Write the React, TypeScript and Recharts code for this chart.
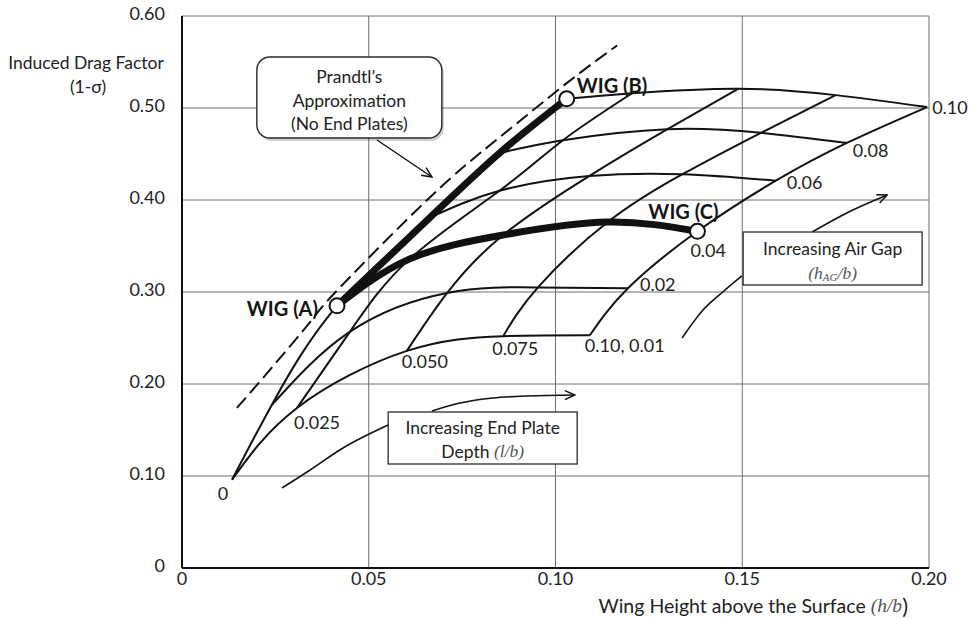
import React from 'react';
import { LineChart, Line, XAxis, YAxis, CartesianGrid, ReferenceDot } from 'recharts';

// End plate depth (l/b) and air gap (hAG/b) of the carpet nodes
const plateDepths = [0, 0.025, 0.05, 0.075, 0.1];
const airGaps = [0.01, 0.02, 0.04, 0.06, 0.08, 0.1];

// Wing height h/b at each node, one row per air gap, columns follow plateDepths
const heightGap01 = [0.0134, 0.0308, 0.0602, 0.086, 0.1092];
const heightGap02 = [0.024, 0.045, 0.071, 0.0953, 0.1194];
const heightGap04 = [0.0415, 0.061, 0.086, 0.114, 0.138];
const heightGap06 = [0.0664, 0.085, 0.109, 0.134, 0.159];
const heightGap08 = [0.085, 0.102, 0.13, 0.155, 0.178];
const heightGap10 = [0.103, 0.1205, 0.149, 0.175, 0.1995];

// Induced drag factor (1-sigma) at the same nodes
const factorGap01 = [0.096, 0.174, 0.236, 0.252, 0.253];
const factorGap02 = [0.177, 0.257, 0.299, 0.305, 0.304];
const factorGap04 = [0.285, 0.336, 0.362, 0.376, 0.366];
const factorGap06 = [0.381, 0.41, 0.426, 0.428, 0.421];
const factorGap08 = [0.451, 0.465, 0.477, 0.473, 0.462];
const factorGap10 = [0.51, 0.516, 0.521, 0.514, 0.501];

// Prandtl's approximation (no end plates)
const prandtlHeight = [0.0147, 0.0241, 0.0348, 0.0423, 0.0664, 0.085, 0.103, 0.1165];
const prandtlFactor = [0.174, 0.218, 0.27, 0.305, 0.403, 0.468, 0.527, 0.568];

// leader lines and arrows of the notes
const prandtlPointerH = [0.0522, 0.0669];
const prandtlPointerS = [0.4652, 0.425];
const depthArrowH = [0.0669, 0.0744, 0.0833, 0.0924, 0.1052];
const depthArrowS = [0.1707, 0.1793, 0.1848, 0.187, 0.188];
const depthLeaderH = [0.0268, 0.0343, 0.0431, 0.0552];
const depthLeaderS = [0.087, 0.1065, 0.1304, 0.1554];
const gapArrowH = [0.1687, 0.178, 0.1888];
const gapArrowS = [0.3652, 0.3859, 0.4054];
const gapLeaderH = [0.1339, 0.1395, 0.1448, 0.1499];
const gapLeaderS = [0.25, 0.2804, 0.3, 0.3174];

const xTicks = [0, 0.05, 0.1, 0.15, 0.2];
const yTicks = [0, 0.1, 0.2, 0.3, 0.4, 0.5, 0.6];

type Pt = { x: number; y: number };
const toPoints = (h: number[], s: number[]): Pt[] => h.map((x, i) => ({ x, y: s[i] }));

const heightRows = [heightGap01, heightGap02, heightGap04, heightGap06, heightGap08, heightGap10];
const factorRows = [factorGap01, factorGap02, factorGap04, factorGap06, factorGap08, factorGap10];
const node = (g: number, d: number): Pt => ({ x: heightRows[g][d], y: factorRows[g][d] });

const gapCurves = airGaps.map((_, g) => plateDepths.map((__, d) => node(g, d)));
const depthCurves = plateDepths.map((_, d) => airGaps.map((__, g) => node(g, d)));

const FONT = 'Lato, "Open Sans", sans-serif';
const SERIF = '"Liberation Serif", "DejaVu Serif", serif';
const INK = '#111';
const TXT = '#222';
const NUM = 18;
const WORD = 17.5;

// text next to carpet nodes (gap index, depth index)
const nodeLabels = [
  { text: '0', g: 0, d: 0, dx: -9, dy: 13, anchor: 'middle' },
  { text: '0.025', g: 0, d: 1, dx: -3, dy: 14, anchor: 'start' },
  { text: '0.050', g: 0, d: 2, dx: -5, dy: 10, anchor: 'start' },
  { text: '0.075', g: 0, d: 3, dx: -11, dy: 12, anchor: 'start' },
  { text: '0.10, 0.01', g: 0, d: 4, dx: -5, dy: 10, anchor: 'start' },
  { text: '0.02', g: 1, d: 4, dx: 12, dy: -4, anchor: 'start' },
  { text: '0.04', g: 2, d: 4, dx: -7, dy: 19, anchor: 'start' },
  { text: '0.06', g: 3, d: 4, dx: 11, dy: 1, anchor: 'start' },
  { text: '0.08', g: 4, d: 4, dx: 6, dy: 7, anchor: 'start' },
  { text: '0.10', g: 5, d: 4, dx: 5, dy: 0, anchor: 'start' },
];

const wigPoints = [
  { text: 'WIG (A)', g: 2, d: 0, dx: -19, dy: 2, anchor: 'end' },
  { text: 'WIG (B)', g: 5, d: 0, dx: 10, dy: -14, anchor: 'start' },
  { text: 'WIG (C)', g: 2, d: 4, dx: -14, dy: -20, anchor: 'middle' },
];

function YTick({ x, y, payload }: any) {
  const v = payload.value as number;
  return (
    <text x={x} y={y - 3} textAnchor="end" dominantBaseline="central" fontFamily={FONT} fontSize={NUM} fill={TXT}>
      {v === 0 ? '0' : v.toFixed(2)}
    </text>
  );
}

function XTick({ x, y, payload }: any) {
  const v = payload.value as number;
  return (
    <text x={x} y={y} textAnchor="middle" dominantBaseline="central" fontFamily={FONT} fontSize={NUM} fill={TXT}>
      {v === 0 ? '0' : v.toFixed(2)}
    </text>
  );
}

function YTitle({ viewBox }: any) {
  const cx = viewBox.x + 86;
  return (
    <g fontFamily={FONT} fontSize={WORD} fill={TXT} textAnchor="middle">
      <text x={cx} y={viewBox.y + 46} dominantBaseline="central">Induced Drag Factor</text>
      <text x={cx + 2} y={viewBox.y + 70} dominantBaseline="central">(1-σ)</text>
    </g>
  );
}

function XTitle({ viewBox }: any) {
  return (
    <text x={viewBox.x + viewBox.width - 21} y={viewBox.y + 37} textAnchor="end" dominantBaseline="central" fontFamily={FONT} fontSize={19.5} fill={TXT}>
      Wing Height above the Surface{' '}
      <tspan fontFamily={SERIF} fontStyle="italic" fill="#555">(h/b</tspan>
      <tspan fontSize={22}>)</tspan>
    </text>
  );
}

function NodeText({ cx, cy, text, dx, dy, anchor, bold }: any) {
  return (
    <text
      x={cx + dx}
      y={cy + dy}
      textAnchor={anchor}
      dominantBaseline="central"
      fontFamily={FONT}
      fontSize={bold ? 20 : NUM}
      fontWeight={bold ? 700 : 400}
      fill={bold ? '#151515' : TXT}
    >
      {text}
    </text>
  );
}

function WigMarker({ cx, cy }: any) {
  return <circle cx={cx} cy={cy} r={7.5} fill="#fff" stroke={INK} strokeWidth={2} />;
}

function PrandtlNote({ cx, cy }: any) {
  const w = 185;
  const h = 81;
  return (
    <g fontFamily={FONT} fontSize={WORD} fill={TXT} textAnchor="middle">
      <rect x={cx - w / 2 + 2} y={cy - h / 2 + 3} width={w} height={h} rx={13} fill="#000" opacity={0.18} />
      <rect x={cx - w / 2} y={cy - h / 2} width={w} height={h} rx={13} fill="#fff" stroke="#2a2a2a" strokeWidth={1.4} />
      <text x={cx} y={cy - 21} dominantBaseline="central">Prandtl’s</text>
      <text x={cx} y={cy + 3} dominantBaseline="central">Approximation</text>
      <text x={cx} y={cy + 26} dominantBaseline="central">(No End Plates)</text>
    </g>
  );
}

function DepthNote({ cx, cy }: any) {
  const w = 189;
  const h = 52;
  return (
    <g fontFamily={FONT} fontSize={WORD} fill={TXT} textAnchor="middle">
      <rect x={cx - w / 2} y={cy - h / 2} width={w} height={h} fill="#fff" stroke="#2a2a2a" strokeWidth={1.3} />
      <text x={cx} y={cy - 11} dominantBaseline="central">Increasing End Plate</text>
      <text x={cx} y={cy + 13} dominantBaseline="central">
        Depth <tspan fontFamily={SERIF} fontStyle="italic" fill="#555">(l/b)</tspan>
      </text>
    </g>
  );
}

function GapNote({ cx, cy }: any) {
  const w = 179;
  const h = 53;
  return (
    <g fontFamily={FONT} fontSize={WORD} fill={TXT} textAnchor="middle">
      <rect x={cx - w / 2} y={cy - h / 2} width={w} height={h} fill="#fff" stroke="#2a2a2a" strokeWidth={1.3} />
      <text x={cx} y={cy - 10} dominantBaseline="central">Increasing Air Gap</text>
      <text x={cx} y={cy + 14} dominantBaseline="central" fontFamily={SERIF} fontStyle="italic" fill="#555">
        (h<tspan fontSize={11} dy={4}>AG</tspan>
        <tspan dy={-4}>/b)</tspan>
      </text>
    </g>
  );
}

const lineBase = {
  dataKey: 'y',
  dot: false,
  activeDot: false,
  isAnimationActive: false,
  legendType: 'none' as const,
};

export default function App() {
  return (
    <div style={{ position: 'absolute', left: 0, top: 0, width: 972, height: 619, background: '#fff' }}>
      <svg width={0} height={0} style={{ position: 'absolute' }}>
        <defs>
          <marker id="openArrow" viewBox="0 0 12 12" refX={11} refY={6} markerWidth={12} markerHeight={12} markerUnits="userSpaceOnUse" orient="auto">
            <path d="M1,1.5 L11,6 L1,10.5" fill="none" stroke={INK} strokeWidth={1.5} />
          </marker>
        </defs>
      </svg>
      <LineChart width={972} height={619} margin={{ top: 16, right: 43, bottom: 0, left: 0 }}>
        <CartesianGrid stroke="#6e6e6e" strokeWidth={1} />
        <XAxis
          type="number"
          dataKey="x"
          domain={[0, 0.2]}
          ticks={xTicks}
          height={51}
          tickLine={false}
          tickSize={0}
          tickMargin={10}
          tick={<XTick />}
          axisLine={{ stroke: INK, strokeWidth: 2 }}
          label={<XTitle />}
        />
        <YAxis
          type="number"
          domain={[0, 0.6]}
          ticks={yTicks}
          width={182}
          tickLine={false}
          tickSize={0}
          tickMargin={17}
          tick={<YTick />}
          axisLine={{ stroke: INK, strokeWidth: 2 }}
          label={<YTitle />}
        />

        {/* constant air gap curves, then constant end plate depth curves */}
        {gapCurves.map((pts, i) => (
          <Line key={`gap-${i}`} {...lineBase} data={pts} type="natural" stroke={INK} strokeWidth={2} />
        ))}
        {depthCurves.map((pts, i) => (
          <Line key={`depth-${i}`} {...lineBase} data={pts} type="natural" stroke={INK} strokeWidth={2} />
        ))}

        <Line {...lineBase} data={toPoints(prandtlHeight, prandtlFactor)} type="natural" stroke={INK} strokeWidth={2} strokeDasharray="14 6" />

        {/* WIG (A) to (B) along no end plate, WIG (A) to (C) along hAG/b = 0.04 */}
        <Line {...lineBase} data={depthCurves[0].slice(2)} type="natural" stroke={INK} strokeWidth={7} strokeLinecap="round" />
        <Line {...lineBase} data={gapCurves[2]} type="natural" stroke={INK} strokeWidth={7} strokeLinecap="round" />

        <Line {...lineBase} data={toPoints(prandtlPointerH, prandtlPointerS)} type="linear" stroke={INK} strokeWidth={1.4} markerEnd="url(#openArrow)" />
        <Line {...lineBase} data={toPoints(depthArrowH, depthArrowS)} type="monotone" stroke={INK} strokeWidth={1.6} markerEnd="url(#openArrow)" />
        <Line {...lineBase} data={toPoints(depthLeaderH, depthLeaderS)} type="monotone" stroke={INK} strokeWidth={1.6} />
        <Line {...lineBase} data={toPoints(gapArrowH, gapArrowS)} type="monotone" stroke={INK} strokeWidth={1.6} markerEnd="url(#openArrow)" />
        <Line {...lineBase} data={toPoints(gapLeaderH, gapLeaderS)} type="monotone" stroke={INK} strokeWidth={1.6} />

        <ReferenceDot x={0.0448} y={0.5114} r={0} shape={(p: any) => <PrandtlNote {...p} />} />
        <ReferenceDot x={0.0805} y={0.1413} r={0} shape={(p: any) => <DepthNote {...p} />} />
        <ReferenceDot x={0.1742} y={0.3364} r={0} shape={(p: any) => <GapNote {...p} />} />

        {wigPoints.map((w) => {
          const p = node(w.g, w.d);
          return <ReferenceDot key={`m-${w.text}`} x={p.x} y={p.y} r={0} shape={(sp: any) => <WigMarker {...sp} />} />;
        })}
        {wigPoints.map((w) => {
          const p = node(w.g, w.d);
          return (
            <ReferenceDot key={`t-${w.text}`} x={p.x} y={p.y} r={0} shape={(sp: any) => <NodeText {...sp} {...w} bold />} />
          );
        })}
        {nodeLabels.map((l) => {
          const p = node(l.g, l.d);
          return <ReferenceDot key={`n-${l.text}`} x={p.x} y={p.y} r={0} shape={(sp: any) => <NodeText {...sp} {...l} />} />;
        })}
      </LineChart>
    </div>
  );
}
